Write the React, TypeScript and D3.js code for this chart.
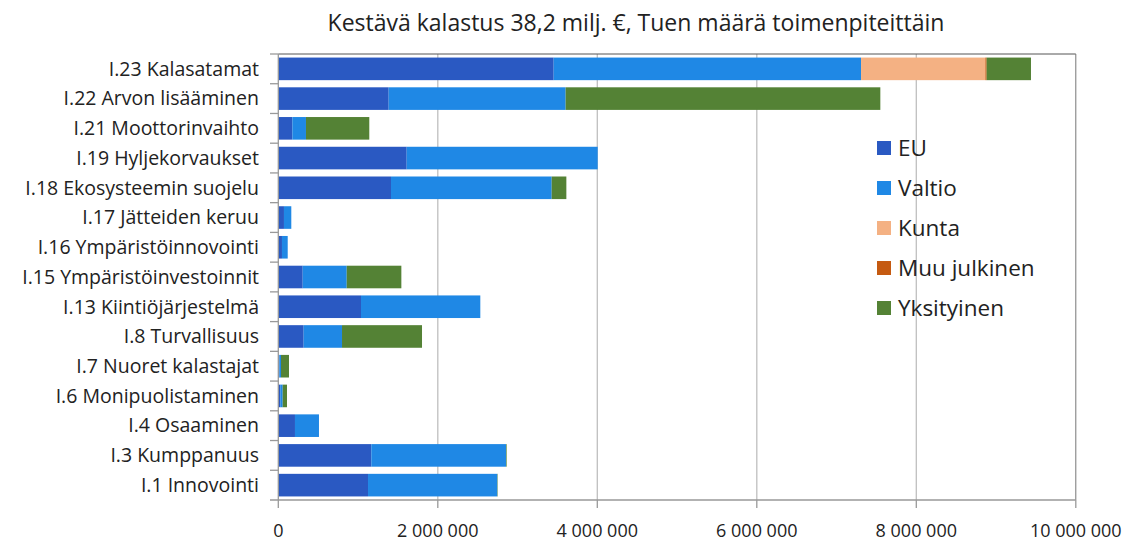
import React from "react";
import * as d3 from "d3";

const categories = [
  "I.23 Kalasatamat",
  "I.22 Arvon lisääminen",
  "I.21 Moottorinvaihto",
  "I.19 Hyljekorvaukset",
  "I.18 Ekosysteemin suojelu",
  "I.17 Jätteiden keruu",
  "I.16 Ympäristöinnovointi",
  "I.15 Ympäristöinvestoinnit",
  "I.13 Kiintiöjärjestelmä",
  "I.8 Turvallisuus",
  "I.7 Nuoret kalastajat",
  "I.6 Monipuolistaminen",
  "I.4 Osaaminen",
  "I.3 Kumppanuus",
  "I.1 Innovointi",
];

const seriesNames = ["EU", "Valtio", "Kunta", "Muu julkinen", "Yksityinen"];
const seriesColors = ["#2a59c2", "#1f88e5", "#f4b183", "#c55a11", "#548235"];

const eu = [3453000, 1384000, 176000, 1610000, 1413000, 71000, 46000, 306000, 1037000, 318000, 13000, 25000, 209000, 1166000, 1125000];
const valtio = [3854000, 2219000, 171000, 2395000, 2015000, 92000, 72000, 552000, 1496000, 481000, 21000, 30000, 301000, 1689000, 1621000];
const kunta = [1559000, 0, 0, 0, 0, 0, 0, 0, 0, 0, 0, 0, 0, 0, 0];
const muuJulkinen = [16000, 0, 0, 0, 0, 0, 0, 0, 0, 0, 0, 0, 0, 0, 0];
const yksityinen = [556000, 3946000, 794000, 0, 184000, 0, 0, 685000, 0, 1003000, 100000, 54000, 0, 8000, 5000];

const xTicks = [0, 2000000, 4000000, 6000000, 8000000, 10000000];

const title = "Kestävä kalastus 38,2 milj. €, Tuen määrä toimenpiteittäin";

export default function App() {
  const W = 1136, H = 543;
  const left = 278.3, right = 1075.8, top = 54, bottom = 500;
  const font = "'Open Sans', 'Noto Sans', sans-serif";

  const x = d3.scaleLinear().domain([0, 10000000]).range([left, right]);
  const y = d3.scaleBand<string>().domain(categories).range([top, bottom]).paddingInner(0.24).paddingOuter(0.12);
  const yBound = d3.scaleBand<string>().domain(categories).range([top, bottom]);

  const rows = categories.map((c, i) => ({
    cat: c,
    EU: eu[i],
    Valtio: valtio[i],
    Kunta: kunta[i],
    "Muu julkinen": muuJulkinen[i],
    Yksityinen: yksityinen[i],
  }));
  const stack = d3.stack<any>().keys(seriesNames)(rows);

  const fmt = (v: number) => d3.format(",")(v).replace(/,/g, " ");

  return (
    <svg width={W} height={H} style={{ display: "block", position: "absolute", left: 0, top: 0 }} fontFamily={font}>
      <rect width={W} height={H} fill="#fff" />
      <text x={636} y={31} textAnchor="middle" fontSize={23} fill="#222">{title}</text>
      {/* gridlines */}
      {xTicks.slice(1, -1).map((t) => (
        <line key={t} x1={x(t)} x2={x(t)} y1={top} y2={bottom} stroke="#bfbfbf" strokeWidth={1.3} />
      ))}
      {/* plot border */}
      <line x1={left} x2={right} y1={top} y2={top} stroke="#555" strokeWidth={1} />
      <line x1={right} x2={right} y1={top} y2={bottom} stroke="#777" strokeWidth={1} />
      {/* bars */}
      {stack.map((s, si) => (
        <g key={s.key} fill={seriesColors[si]}>
          {s.map((d, i) =>
            d[1] - d[0] > 0 ? (
              <rect key={i} x={x(d[0])} y={y(categories[i])!} width={x(d[1]) - x(d[0])} height={y.bandwidth()} />
            ) : null
          )}
        </g>
      ))}
      {/* y axis */}
      <line x1={left} x2={left} y1={top} y2={bottom} stroke="#999" strokeWidth={1.3} />
      {categories.map((c) => (
        <line key={c} x1={270} x2={left} y1={yBound(c)!} y2={yBound(c)!} stroke="#999" strokeWidth={1.3} />
      ))}
      {categories.map((c) => (
        <text key={c} x={259} y={y(c)! + y.bandwidth() / 2} dy="0.35em" textAnchor="end" fontSize={19.5} fill="#222">{c}</text>
      ))}
      {/* x axis */}
      <line x1={270} x2={right} y1={bottom} y2={bottom} stroke="#999" strokeWidth={1.3} />
      {xTicks.map((t) => (
        <g key={t}>
          <line x1={x(t)} x2={x(t)} y1={bottom} y2={bottom + 8} stroke="#999" strokeWidth={1.3} />
          <text x={x(t)} y={537} textAnchor="middle" fontSize={18} fill="#222">{fmt(t)}</text>
        </g>
      ))}
      {/* legend */}
      {seriesNames.map((n, i) => (
        <g key={n} transform={`translate(877, ${148 + i * 40})`}>
          <rect x={0} y={-7} width={14} height={14} fill={seriesColors[i]} />
          <text x={21} y={0} dy="0.35em" fontSize={22.5} fill="#222">{n}</text>
        </g>
      ))}
    </svg>
  );
}
